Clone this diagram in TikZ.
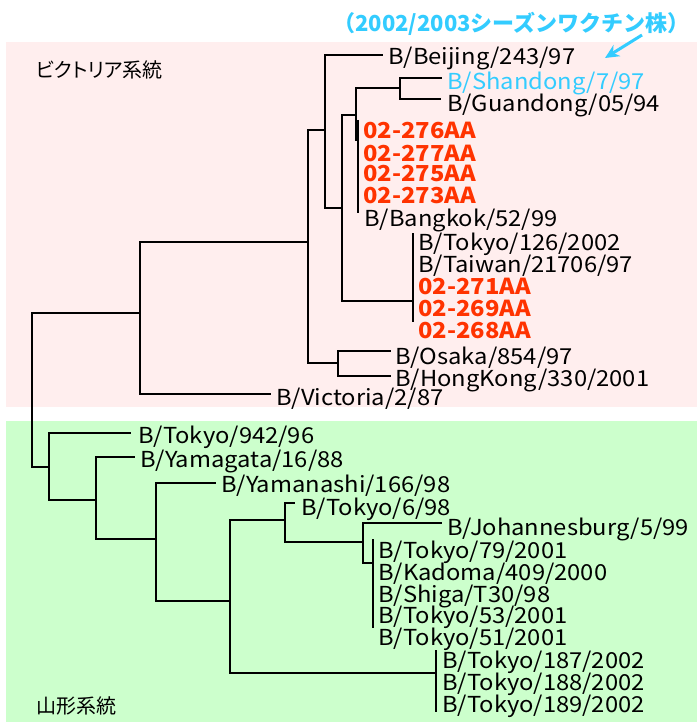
\documentclass[tikz,border=0pt]{standalone}
\usepackage{fontspec}
\setmainfont{Noto Sans CJK JP}[FakeStretch=1.08]
\newfontfamily\jpfont{Noto Sans CJK JP}
\newfontfamily\jppfont{Noto Sans CJK JP}[RawFeature=+palt]
\usetikzlibrary{arrows.meta}
\definecolor{pinkbg}{HTML}{FFEEEE}
\definecolor{greenbg}{HTML}{CCFFCC}
\definecolor{redtxt}{HTML}{FF3300}
\definecolor{bluetxt}{HTML}{33CCFF}
\begin{document}
\begin{tikzpicture}[x=1pt,y=-1pt,
  leaf/.style={anchor=base west, inner sep=0pt, font=\fontsize{22}{22}\selectfont},
  redleaf/.style={leaf, text=redtxt, font=\fontsize{22}{22}\selectfont\bfseries},
  grouplabel/.style={anchor=base west, inner sep=0pt, font=\jppfont\fontsize{20}{20}\selectfont},
  br/.style={line width=2pt, draw=black},
  clus/.style={line width=1.5pt, draw=black},
  ]
\useasboundingbox (0,0) rectangle (697,722);
% backgrounds
\fill[pinkbg] (6,42) rectangle (697,407);
\fill[greenbg] (6,421) rectangle (697,722);

% title and arrow
\node[anchor=base west, inner sep=0pt, text=bluetxt, font=\jpfont\fontsize{22}{22}\selectfont\bfseries] (title) at (333,32) {（2002/2003シーズンワクチン株）};
\coordinate (arrS) at (642,35);
\coordinate (arrE) at (605,58);
\draw[bluetxt, line width=3pt, -{Stealth[length=14pt,width=13pt]}] (arrS) -- (arrE);

% group labels
\node[grouplabel] (vic) at (36,78) {ビクトリア系統};
\node[grouplabel] (yam) at (36,713) {山形系統};

% leaf labels: Victoria lineage
\node[leaf] (lBeijing) at (388,65) {B/Beijing/243/97};
\node[leaf, text=bluetxt] (lShandong) at (447,90) {B/Shandong/7/97};
\node[leaf] (lGuandong) at (447,112) {B/Guandong/05/94};
\node[redleaf] (l276) at (363,139) {02-276AA};
\node[redleaf] (l277) at (363,161) {02-277AA};
\node[redleaf] (l275) at (363,182) {02-275AA};
\node[redleaf] (l273) at (363,204) {02-273AA};
\node[leaf] (lBangkok) at (364,226) {B/Bangkok/52/99};
\node[leaf] (lTokyo126) at (418,250) {B/Tokyo/126/2002};
\node[leaf] (lTaiwan) at (418,272) {B/Taiwan/21706/97};
\node[redleaf] (l271) at (418,294) {02-271AA};
\node[redleaf] (l269) at (418,316) {02-269AA};
\node[redleaf] (l268) at (418,338) {02-268AA};
\node[leaf] (lOsaka) at (395,364) {B/Osaka/854/97};
\node[leaf] (lHK) at (395,386) {B/HongKong/330/2001};
\node[leaf] (lVictoria) at (276,405) {B/Victoria/2/87};

% leaf labels: Yamagata lineage
\node[leaf] (lTokyo942) at (138,443) {B/Tokyo/942/96};
\node[leaf] (lYamagata) at (140,467) {B/Yamagata/16/88};
\node[leaf] (lYamanashi) at (221,492) {B/Yamanashi/166/98};
\node[leaf] (lTokyo6) at (301,515) {B/Tokyo/6/98};
\node[leaf] (lJohannesburg) at (447,535) {B/Johannesburg/5/99};
\node[leaf] (lTokyo79) at (378,558) {B/Tokyo/79/2001};
\node[leaf] (lKadoma) at (378,580) {B/Kadoma/409/2000};
\node[leaf] (lShiga) at (378,602) {B/Shiga/T30/98};
\node[leaf] (lTokyo53) at (378,623) {B/Tokyo/53/2001};
\node[leaf] (lTokyo51) at (378,645) {B/Tokyo/51/2001};
\node[leaf] (lTokyo187) at (442,668) {B/Tokyo/187/2002};
\node[leaf] (lTokyo188) at (442,690) {B/Tokyo/188/2002};
\node[leaf] (lTokyo189) at (442,712) {B/Tokyo/189/2002};

% internal nodes (x of vertical line, y of incoming branch)
\coordinate (nR) at (32,390);
\coordinate (nV) at (140,313);
\coordinate (nA) at (308,242);
\coordinate (nB) at (325,130);
\coordinate (nC) at (342,208);
\coordinate (nD) at (356,115);
\coordinate (nE) at (400,88);
\coordinate (nF) at (413,301);
\coordinate (nG) at (338,363);
\coordinate (nRed) at (358,140);
\coordinate (nH) at (49,467);
\coordinate (nI) at (96,500);
\coordinate (nJ) at (156,539);
\coordinate (nK) at (230,601);
\coordinate (nL) at (285,520);
\coordinate (nM) at (363,542);
\coordinate (nN) at (373,563);
\coordinate (nO) at (436,673);
% branch ends at leaves
\coordinate (eBeijing) at (383,55);
\coordinate (eShandong) at (442,78);
\coordinate (eGuandong) at (441,99);
\coordinate (eOsaka) at (391,351);
\coordinate (eHK) at (391,376);
\coordinate (eVictoria) at (271,394);
\coordinate (eTokyo942) at (131,433);
\coordinate (eYamagata) at (135,457);
\coordinate (eYamanashi) at (216,483);
\coordinate (eTokyo6) at (295,503);
\coordinate (eJohannesburg) at (442,523);
% cluster (zero-length) bars
\coordinate (redTop) at (358,120);
\coordinate (redBot) at (358,213);
\coordinate (fTop) at (413,233);
\coordinate (fBot) at (413,322);
\coordinate (nTop) at (373,539);
\coordinate (nBot) at (373,628);
\coordinate (oTop) at (436,650);
\coordinate (oBot) at (436,712);

% edges
\draw[br] (nR) |- (nV);
\draw[br] (nR) |- (nH);
\draw[br] (nV) |- (nA);
\draw[br] (nV) |- (eVictoria);
\draw[br] (nA) |- (nB);
\draw[br] (nA) |- (nG);
\draw[br] (nB) |- (eBeijing);
\draw[br] (nB) |- (nC);
\draw[br] (nC) |- (nD);
\draw[br] (nC) |- (nF);
\draw[br] (nD) |- (nE);
\draw[br] (nD) |- (nRed);
\draw[br] (nE) |- (eShandong);
\draw[br] (nE) |- (eGuandong);
\draw[br] (nG) |- (eOsaka);
\draw[br] (nG) |- (eHK);
\draw[clus] (redTop) -- (redBot);
\draw[clus] (fTop) -- (fBot);

\draw[br] (nH) |- (eTokyo942);
\draw[br] (nH) |- (nI);
\draw[br] (nI) |- (eYamagata);
\draw[br] (nI) |- (nJ);
\draw[br] (nJ) |- (eYamanashi);
\draw[br] (nJ) |- (nK);
\draw[br] (nK) |- (nL);
\draw[br] (nK) |- (nO);
\draw[br] (nL) |- (eTokyo6);
\draw[br] (nL) |- (nM);
\draw[br] (nM) |- (eJohannesburg);
\draw[br] (nM) |- (nN);
\draw[clus] (nTop) -- (nBot);
\draw[clus] (oTop) -- (oBot);
\end{tikzpicture}
\end{document}
